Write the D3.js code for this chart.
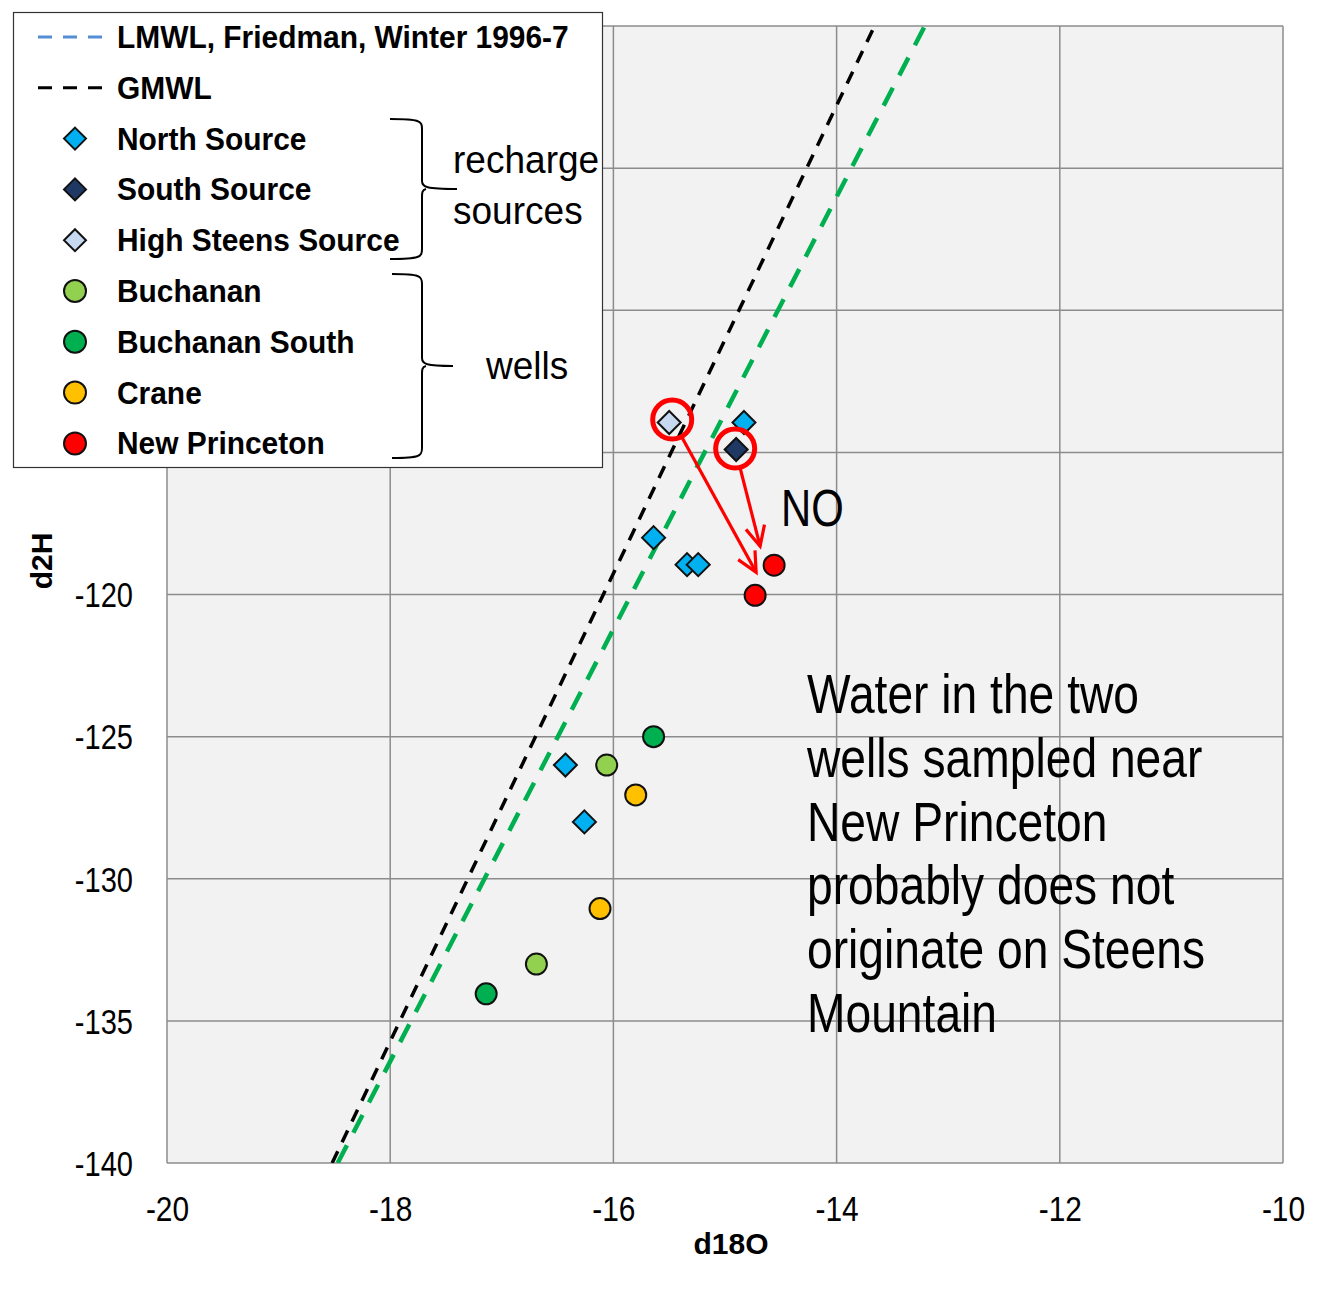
<!DOCTYPE html>
<html><head><meta charset="utf-8">
<script src="https://cdn.jsdelivr.net/npm/d3@7"></script>
<style>
html,body{margin:0;padding:0;background:#fff;}
svg{display:block;}
</style></head>
<body>
<svg id="chart" width="1326" height="1311"></svg>
<script>
// ---------- DATA ----------
const xTicks = [-20, -18, -16, -14, -12, -10];
const yTicks = [-140, -135, -130, -125, -120, -115, -110, -105, -100];
const yTickLabels = ["-140", "-135", "-130", "-125", "-120", "", "", "", "-100"];

const northSource   = [[-14.83, -113.95], [-15.64, -118.0], [-15.34, -118.95], [-15.24, -118.95], [-16.43, -126.0], [-16.26, -128.0]];
const southSource   = [[-14.90, -114.9]];
const highSteens    = [[-15.50, -113.95]];
const buchanan      = [[-16.06, -126.0], [-16.69, -133.0]];
const buchananSouth = [[-15.64, -125.0], [-17.14, -134.05]];
const crane         = [[-15.80, -127.05], [-16.12, -131.05]];
const newPrinceton  = [[-14.56, -118.97], [-14.73, -120.03]];

const gmwl = [[-18.52, -140], [-13.66, -100]];
const lmwl = [[-18.47, -140], [-13.21, -100]];

const legendLabels = ["LMWL, Friedman, Winter 1996-7", "GMWL", "North Source", "South Source", "High Steens Source", "Buchanan", "Buchanan South", "Crane", "New Princeton"];
const noteLines = ["Water in the two", "wells sampled near", "New Princeton", "probably does not", "originate on Steens", "Mountain"];

// ---------- SETUP ----------
const SANS = "'Liberation Sans',Arial,sans-serif";
const svg = d3.select("#chart");
const L = 167, R = 1283, T = 26, B = 1163;
const x = d3.scaleLinear().domain([-20, -10]).range([L, R]);
const y = d3.scaleLinear().domain([-140, -100]).range([B, T]);
const gridCol = "#8c8c8c";

svg.append("defs").append("clipPath").attr("id", "clip")
  .append("rect").attr("x", L).attr("y", T).attr("width", R - L).attr("height", B - T);

svg.append("rect").attr("x", L).attr("y", T).attr("width", R - L).attr("height", B - T).attr("fill", "#f2f2f2");

// grid
svg.append("g").selectAll("line").data(xTicks).join("line")
  .attr("x1", d => x(d)).attr("x2", d => x(d)).attr("y1", T).attr("y2", B)
  .attr("stroke", gridCol).attr("stroke-width", 1.5);
svg.append("g").selectAll("line").data(yTicks).join("line")
  .attr("x1", L).attr("x2", R).attr("y1", d => y(d)).attr("y2", d => y(d))
  .attr("stroke", gridCol).attr("stroke-width", 1.5);

// axes labels via d3 axes (condensed face emulated with horizontal scale)
const TS = 0.83;
const xAxis = svg.append("g").attr("transform", `translate(0,${B})`)
  .call(d3.axisBottom(x).tickValues(xTicks).tickSize(0).tickPadding(0).tickFormat(d => String(d)));
xAxis.select(".domain").remove();
xAxis.selectAll("text").attr("font-family", SANS).attr("font-size", 36).attr("fill", "#000")
  .attr("dy", null).attr("y", 58).attr("transform", `scale(${TS},1)`);

const yAxis = svg.append("g").attr("transform", `translate(${L},0)`)
  .call(d3.axisLeft(y).tickValues(yTicks).tickSize(0).tickPadding(0).tickFormat((d, i) => yTickLabels[i]));
yAxis.select(".domain").remove();
yAxis.selectAll("text").attr("font-family", SANS).attr("font-size", 35).attr("fill", "#000")
  .attr("x", -34 / TS).attr("dy", "0.35em").attr("transform", `scale(${TS},1)`);

// axis titles
svg.append("text").attr("x", 731).attr("y", 1254).attr("text-anchor", "middle")
  .attr("font-family", SANS).attr("font-weight", "bold").attr("font-size", 30).text("d18O");
svg.append("text").attr("transform", "translate(52,561) rotate(-90)").attr("text-anchor", "middle")
  .attr("font-family", SANS).attr("font-weight", "bold").attr("font-size", 30).text("d2H");

// lines
const line = d3.line().x(d => x(d[0])).y(d => y(d[1]));
const gl = svg.append("g").attr("clip-path", "url(#clip)");
gl.append("path").datum(gmwl).attr("d", line).attr("fill", "none").attr("stroke", "#000")
  .attr("stroke-width", 3.5).attr("stroke-dasharray", "13,10");
gl.append("path").datum(lmwl).attr("d", line).attr("fill", "none").attr("stroke", "#00b050")
  .attr("stroke-width", 4.5).attr("stroke-dasharray", "20,14");

// points
const diamond = (cx, cy, r) => `M${cx},${cy - r}L${cx + r},${cy}L${cx},${cy + r}L${cx - r},${cy}Z`;
const series = [
  {data: northSource, fill: "#00b0f0", shape: "d"},
  {data: southSource, fill: "#1f3864", shape: "d"},
  {data: highSteens, fill: "#c6d9f1", shape: "d"},
  {data: buchanan, fill: "#92d050", shape: "c"},
  {data: buchananSouth, fill: "#00b050", shape: "c"},
  {data: crane, fill: "#ffc000", shape: "c"},
  {data: newPrinceton, fill: "#ff0000", shape: "c"}
];
const pts = svg.append("g");
series.forEach(s => {
  if (s.shape === "d") {
    pts.selectAll(null).data(s.data).join("path")
      .attr("d", d => diamond(x(d[0]), y(d[1]), 11.5))
      .attr("fill", s.fill).attr("stroke", "#111").attr("stroke-width", 2);
  } else {
    pts.selectAll(null).data(s.data).join("circle")
      .attr("cx", d => x(d[0])).attr("cy", d => y(d[1])).attr("r", 10.5)
      .attr("fill", s.fill).attr("stroke", "#111").attr("stroke-width", 2);
  }
});

// annotation rings + arrows
const red = "#ff0000";
const ann = svg.append("g");
const ringA = [x(highSteens[0][0]) + 3, y(highSteens[0][1]) - 3];
const ringB = [x(southSource[0][0]) - 1, y(southSource[0][1]) - 1];
[ringA, ringB].forEach(c => ann.append("circle").attr("cx", c[0]).attr("cy", c[1]).attr("r", 19.5)
  .attr("fill", "none").attr("stroke", red).attr("stroke-width", 5));

function arrow(from, to, r) {
  const dx = to[0] - from[0], dy = to[1] - from[1], len = Math.hypot(dx, dy);
  const ux = dx / len, uy = dy / len;
  const s = [from[0] + ux * r, from[1] + uy * r];
  ann.append("line").attr("x1", s[0]).attr("y1", s[1]).attr("x2", to[0]).attr("y2", to[1])
    .attr("stroke", red).attr("stroke-width", 3.2);
  const hl = 22, ha = 0.45;
  const ang = Math.atan2(dy, dx);
  const p1 = [to[0] - hl * Math.cos(ang - ha), to[1] - hl * Math.sin(ang - ha)];
  const p2 = [to[0] - hl * Math.cos(ang + ha), to[1] - hl * Math.sin(ang + ha)];
  ann.append("path").attr("d", `M${p1}L${to}L${p2}`).attr("fill", "none")
    .attr("stroke", red).attr("stroke-width", 3.2).attr("stroke-linejoin", "miter");
}
arrow(ringA, [x(newPrinceton[1][0]) + 1, y(newPrinceton[1][1]) - 23], 21);
arrow(ringB, [x(newPrinceton[0][0]) - 14, y(newPrinceton[0][1]) - 19], 21);

svg.append("text").attr("transform", "translate(781,526) scale(0.82,1)")
  .attr("font-family", SANS).attr("font-size", 51).text("NO");

const note = svg.append("text").attr("transform", "translate(807,0) scale(0.84,1)")
  .attr("font-family", SANS).attr("font-size", 55).attr("fill", "#000");
note.selectAll("tspan").data(noteLines).join("tspan")
  .attr("x", 0).attr("y", (d, i) => 713 + i * 63.8).text(d => d);

// ---------- LEGEND ----------
const lg = svg.append("g");
lg.append("rect").attr("x", 13.5).attr("y", 12.5).attr("width", 589).attr("height", 455)
  .attr("fill", "#fff").attr("stroke", "#333").attr("stroke-width", 1.2);
const rowY = i => 37 + i * 50.8;
lg.append("line").attr("x1", 38).attr("x2", 107).attr("y1", rowY(0)).attr("y2", rowY(0))
  .attr("stroke", "#558ed5").attr("stroke-width", 3).attr("stroke-dasharray", "14,11");
lg.append("line").attr("x1", 38).attr("x2", 107).attr("y1", rowY(1)).attr("y2", rowY(1))
  .attr("stroke", "#000").attr("stroke-width", 3).attr("stroke-dasharray", "14,11");
series.forEach((s, i) => {
  const cy = rowY(i + 2);
  if (s.shape === "d") lg.append("path").attr("d", diamond(75, cy, 11))
    .attr("fill", s.fill).attr("stroke", "#111").attr("stroke-width", 2);
  else lg.append("circle").attr("cx", 75).attr("cy", cy).attr("r", 11)
    .attr("fill", s.fill).attr("stroke", "#111").attr("stroke-width", 2);
});
legendLabels.forEach((t, i) => {
  lg.append("text").attr("transform", `translate(117,${rowY(i) + 11}) scale(0.965,1)`)
    .attr("font-family", SANS).attr("font-weight", "bold").attr("font-size", 31).text(t);
});

// braces
const brace = (xa, xv, xp, y0, ym, y1) => {
  const c = 8;
  return `M${xa},${y0} C${xv - 2},${y0} ${xv},${y0 + 2} ${xv},${y0 + c + 2} L${xv},${ym - c} C${xv},${ym - 2} ${xv + 4},${ym} ${xp},${ym}` +
    ` M${xv + 4},${ym} C${xv},${ym + 1} ${xv},${ym + 4} ${xv},${ym + c} L${xv},${y1 - c - 2} C${xv},${y1 - 2} ${xv - 2},${y1} ${xa},${y1}`;
};
lg.append("path").attr("d", brace(390, 422, 457, 119, 189, 259)).attr("fill", "none").attr("stroke", "#000").attr("stroke-width", 2);
lg.append("path").attr("d", brace(392, 422, 453, 274, 366, 458)).attr("fill", "none").attr("stroke", "#000").attr("stroke-width", 2);
[["recharge", 453, 173], ["sources", 453, 224], ["wells", 486, 379]].forEach(d => {
  lg.append("text").attr("transform", `translate(${d[1]},${d[2]}) scale(0.95,1)`)
    .attr("font-family", SANS).attr("font-size", 39).text(d[0]);
});
</script>
</body></html>
